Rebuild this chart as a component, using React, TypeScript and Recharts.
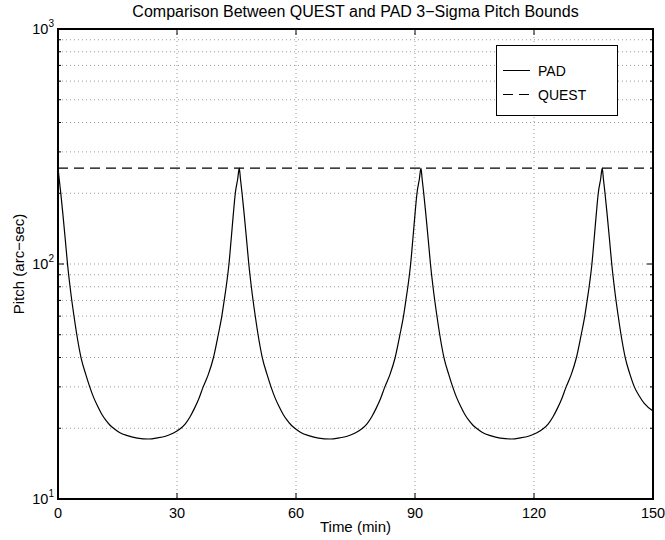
import React from "react";
import {
  LineChart,
  Line,
  XAxis,
  YAxis,
  CartesianGrid,
  ReferenceLine,
} from "recharts";

// ---- data ----
const TIME_MIN = [
  // period 1
  0, 0.3, 0.7, 1.2, 1.8, 2.4, 3.1, 4.0, 4.7, 5.8, 7.0, 8.0, 9.0, 10.0, 11.0, 12.0, 13.0, 14.0, 15.5, 17.5, 20.0, 22.9,
  25.1, 27.1, 29.1, 30.8, 32.1, 33.3, 34.4, 35.5, 36.6, 37.9, 39.2, 40.4, 41.3, 41.9, 42.4, 43.1, 43.7, 44.2, 44.7, 45.3, 45.7,
  // period 2
  46.0, 46.4, 46.9, 47.5, 48.1, 48.8, 49.7, 50.4, 51.5, 52.7, 53.7, 54.7, 55.7, 56.7, 57.7, 58.7, 59.7, 61.2, 63.2, 65.7, 68.6,
  70.9, 72.9, 74.9, 76.6, 77.9, 79.1, 80.2, 81.3, 82.4, 83.7, 85.0, 86.2, 87.1, 87.7, 88.2, 88.9, 89.5, 90.0, 90.5, 91.1, 91.5,
  // period 3
  91.8, 92.2, 92.7, 93.3, 93.9, 94.6, 95.5, 96.2, 97.3, 98.5, 99.5, 100.5, 101.5, 102.5, 103.5, 104.5, 105.5, 107.0, 109.0, 111.5, 114.4,
  116.6, 118.6, 120.6, 122.3, 123.6, 124.8, 125.9, 127.0, 128.1, 129.4, 130.7, 131.9, 132.8, 133.4, 133.9, 134.6, 135.2, 135.7, 136.2, 136.8, 137.2,
  // period 4 (partial)
  137.5, 137.9, 138.4, 139.0, 139.6, 140.3, 141.2, 141.9, 143.0, 144.2, 145.3, 146.5, 147.8, 150.0,
];
const PAD_SIGMA = [
  // period 1
  256, 230, 200, 165, 129, 100, 78.5, 60.5, 50.5, 40, 33.9, 30, 27, 24.8, 23, 21.7, 20.7, 20, 19.2, 18.6, 18.15, 18.0,
  18.2, 18.5, 19.1, 19.9, 20.9, 22.4, 24.3, 26.7, 30, 33.9, 40, 50, 60, 70, 80, 100, 130, 163, 200, 230, 256,
  // period 2
  230, 200, 165, 129, 100, 78.5, 60.5, 50.5, 40, 33.9, 30, 27, 24.8, 23, 21.7, 20.7, 20, 19.2, 18.6, 18.15, 18.0,
  18.2, 18.5, 19.1, 19.9, 20.9, 22.4, 24.3, 26.7, 30, 33.9, 40, 50, 60, 70, 80, 100, 130, 163, 200, 230, 256,
  // period 3
  230, 200, 165, 129, 100, 78.5, 60.5, 50.5, 40, 33.9, 30, 27, 24.8, 23, 21.7, 20.7, 20, 19.2, 18.6, 18.15, 18.0,
  18.2, 18.5, 19.1, 19.9, 20.9, 22.4, 24.3, 26.7, 30, 33.9, 40, 50, 60, 70, 80, 100, 130, 163, 200, 230, 256,
  // period 4 (partial)
  230, 200, 165, 129, 100, 78.5, 60.5, 50.5, 40, 33.9, 30, 27.5, 25.5, 23.7,
];
const QUEST_TIME = [0, 150];
const QUEST_SIGMA = [256, 256];

const X_TICKS = [0, 30, 60, 90, 120, 150];
const Y_DECADES = [10, 100, 1000];
const Y_MINOR = [20, 30, 40, 50, 60, 70, 80, 90, 200, 300, 400, 500, 600, 700, 800, 900];

const TITLE = "Comparison Between QUEST and PAD 3\u2212Sigma Pitch Bounds";
const X_LABEL = "Time (min)";
const Y_LABEL = "Pitch (arc\u2212sec)";
const SERIES_NAMES = ["PAD", "QUEST"];

const padData = TIME_MIN.map((t, i) => ({ t, v: PAD_SIGMA[i] }));
const questData = QUEST_TIME.map((t, i) => ({ t, v: QUEST_SIGMA[i] }));
const Y_TICKS = [...Y_DECADES, ...Y_MINOR].sort((a, b) => a - b);

const FONT = "'Liberation Sans', Arial, Helvetica, sans-serif";
const W = 665;
const H = 540;
const PLOT = { left: 58, top: 29, right: 653, bottom: 499 };
const plotW = PLOT.right - PLOT.left;
const plotH = PLOT.bottom - PLOT.top;
const X_MAX = 150;
const pxToX = (px: number) => (px * X_MAX) / plotW;
const pxToLogFactor = (px: number) => Math.pow(10, (px * 2) / plotH);

const YTick = (props: any) => {
  const { x, y, payload } = props;
  const v = payload.value;
  if (!Y_DECADES.includes(v)) return <g />;
  const exp = Math.round(Math.log10(v));
  return (
    <text x={x + 4} y={y + 5} textAnchor="end" fontSize={14.5} fill="#000" fontFamily={FONT}>
      10
      <tspan dy={-7} fontSize={10}>
        {exp}
      </tspan>
    </text>
  );
};

const XTick = (props: any) => {
  const { x, y, payload } = props;
  return (
    <text x={x} y={y + 1} dy="0.71em" textAnchor="middle" fontSize={14.5} fill="#000" fontFamily={FONT}>
      {payload.value}
    </text>
  );
};

export default function App() {
  const majorLen = 6;
  const minorLen = 3;
  const tickStroke = { stroke: "#000", strokeWidth: 1 };
  return (
    <div style={{ position: "absolute", left: 0, top: 0, width: W, height: H, background: "#fff" }}>
      <LineChart
        width={W}
        height={H}
        margin={{ top: PLOT.top, right: W - PLOT.right, bottom: 0, left: 0 }}
      >
        <CartesianGrid xAxisId="b" yAxisId="l" stroke="#9a9a9a" strokeDasharray="1 3" />
        <XAxis
          xAxisId="b"
          dataKey="t"
          type="number"
          domain={[0, X_MAX]}
          ticks={X_TICKS}
          allowDataOverflow
          height={H - PLOT.bottom}
          tickLine={false}
          axisLine={false}
          tick={<XTick />}
          interval={0}
        />
        <YAxis
          yAxisId="l"
          type="number"
          scale="log"
          domain={[10, 1000]}
          allowDataOverflow
          ticks={Y_TICKS}
          interval={0}
          width={PLOT.left}
          tickLine={false}
          axisLine={false}
          tick={<YTick />}
        />
        {X_TICKS.slice(1, -1).map((t) => (
          <ReferenceLine
            key={"xb" + t}
            xAxisId="b"
            yAxisId="l"
            segment={[{ x: t, y: 10 }, { x: t, y: 10 * pxToLogFactor(majorLen) }]}
            {...tickStroke}
          />
        ))}
        {X_TICKS.slice(1, -1).map((t) => (
          <ReferenceLine
            key={"xt" + t}
            xAxisId="b"
            yAxisId="l"
            segment={[{ x: t, y: 1000 }, { x: t, y: 1000 / pxToLogFactor(majorLen) }]}
            {...tickStroke}
          />
        ))}
        {[100].map((v) => (
          <ReferenceLine
            key={"yl" + v}
            xAxisId="b"
            yAxisId="l"
            segment={[{ x: 0, y: v }, { x: pxToX(majorLen), y: v }]}
            {...tickStroke}
          />
        ))}
        {[100].map((v) => (
          <ReferenceLine
            key={"yr" + v}
            xAxisId="b"
            yAxisId="l"
            segment={[{ x: X_MAX, y: v }, { x: X_MAX - pxToX(majorLen), y: v }]}
            {...tickStroke}
          />
        ))}
        {Y_MINOR.map((v) => (
          <ReferenceLine
            key={"ml" + v}
            xAxisId="b"
            yAxisId="l"
            segment={[{ x: 0, y: v }, { x: pxToX(minorLen), y: v }]}
            {...tickStroke}
          />
        ))}
        {Y_MINOR.map((v) => (
          <ReferenceLine
            key={"mr" + v}
            xAxisId="b"
            yAxisId="l"
            segment={[{ x: X_MAX, y: v }, { x: X_MAX - pxToX(minorLen), y: v }]}
            {...tickStroke}
          />
        ))}
        <Line
          xAxisId="b"
          yAxisId="l"
          data={questData}
          dataKey="v"
          name={SERIES_NAMES[1]}
          stroke="#000"
          strokeWidth={1.3}
          strokeDasharray="10 6"
          dot={false}
          isAnimationActive={false}
          type="linear"
        />
        <Line
          xAxisId="b"
          yAxisId="l"
          data={padData}
          dataKey="v"
          name={SERIES_NAMES[0]}
          stroke="#000"
          strokeWidth={1.2}
          dot={false}
          isAnimationActive={false}
          type="monotone"
        />
        <text x={(PLOT.left + PLOT.right) / 2} y={17} textAnchor="middle" fontSize={16} fill="#000" fontFamily={FONT}>
          {TITLE}
        </text>
        <text x={(PLOT.left + PLOT.right) / 2} y={532} textAnchor="middle" fontSize={15} fill="#000" fontFamily={FONT}>
          {X_LABEL}
        </text>
        <text
          x={24}
          y={(PLOT.top + PLOT.bottom) / 2}
          textAnchor="middle"
          fontSize={15}
          fill="#000"
          fontFamily={FONT}
          transform={`rotate(-90 24 ${(PLOT.top + PLOT.bottom) / 2})`}
        >
          {Y_LABEL}
        </text>
      </LineChart>
      {/* axes box */}
      <div
        style={{
          position: "absolute",
          left: PLOT.left - 1,
          top: PLOT.top - 1,
          width: plotW + 2,
          height: plotH + 2,
          boxSizing: "border-box",
          border: "2px solid #000",
          pointerEvents: "none",
        }}
      />
      <div
        style={{
          position: "absolute",
          left: 496,
          top: 45,
          width: 120,
          height: 69,
          border: "1px solid #000",
          background: "#fff",
        }}
      >
        <svg width={120} height={69} style={{ position: "absolute", left: 0, top: 0 }}>
          <line x1={6} y1={24.5} x2={33} y2={24.5} stroke="#000" strokeWidth={1} />
          <line x1={6} y1={48.5} x2={33} y2={48.5} stroke="#000" strokeWidth={1} strokeDasharray="10 6" />
          <text x={41} y={30} fontSize={14} fontFamily={FONT} fill="#000">
            {SERIES_NAMES[0]}
          </text>
          <text x={41} y={54} fontSize={14} fontFamily={FONT} fill="#000">
            {SERIES_NAMES[1]}
          </text>
        </svg>
      </div>
    </div>
  );
}
